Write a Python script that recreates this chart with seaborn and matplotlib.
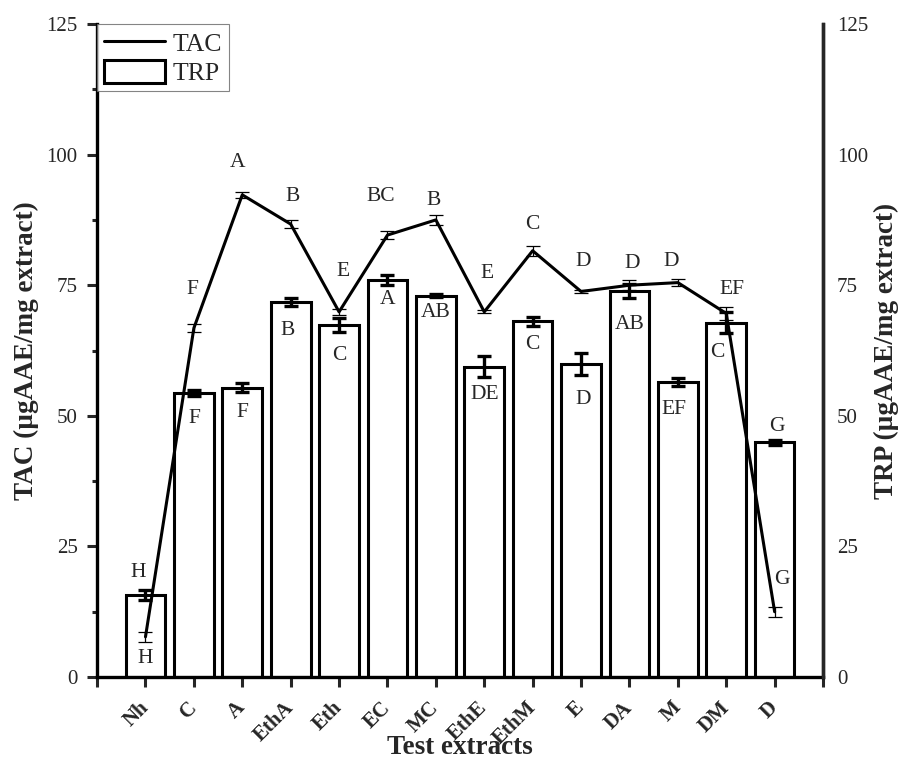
import numpy as np
import pandas as pd
import matplotlib
matplotlib.use("Agg")
import matplotlib.pyplot as plt
from matplotlib.lines import Line2D
from matplotlib.patches import Patch
from matplotlib.ticker import MultipleLocator
import seaborn as sns

extracts = ["Nh", "C", "A", "EthA", "Eth", "EC", "MC", "EthE", "EthM", "E", "DA", "M", "DM", "D"]
tac = [7.7, 66.8, 92.3, 86.7, 69.9, 84.6, 87.5, 69.9, 81.6, 73.8, 75.0, 75.5, 69.6, 12.5]
tac_err = [1.0, 0.8, 0.6, 0.8, 0.6, 0.8, 1.0, 0.3, 1.0, 0.3, 1.0, 0.6, 1.2, 1.0]
trp = [15.7, 54.4, 55.4, 71.8, 67.4, 76.0, 73.0, 59.4, 68.1, 60.0, 73.9, 56.5, 67.8, 44.9]
trp_err = [1.0, 0.6, 0.9, 0.8, 1.3, 1.0, 0.3, 2.0, 0.9, 2.1, 1.4, 0.8, 2.0, 0.4]
tac_letters = ["H", "F", "A", "B", "E", "BC", "B", "E", "C", "D", "D", "D", "EF", "G"]
trp_letters = ["H", "F", "F", "B", "C", "A", "AB", "DE", "C", "D", "AB", "EF", "C", "G"]

# label placement offsets (style)
tac_dy = [-4.1, 7.3, 6.1, 5.2, 7.8, 7.3, 3.8, 7.4, 5.1, 5.8, 4.2, 4.1, 4.5, 6.1]
tac_dx = [0, -0.04, -0.1, 0.04, 0.08, -0.14, -0.04, 0.06, 0, 0.04, 0.06, -0.14, 0.12, 0.14]
trp_dy = [4.4, -5.0, -4.7, -5.4, -5.8, -3.8, -3.3, -5.4, -4.5, -6.8, -6.5, -5.2, -5.6, 3.0]
trp_dx = [-0.16, 0, 0, -0.06, 0, 0, 0, 0, 0, 0.04, 0, -0.08, -0.18, 0.04]

sns.set_style("white")
plt.rcParams["font.family"] = ["Liberation Serif", "DejaVu Serif"]

df = pd.DataFrame({"extract": extracts, "TAC": tac, "TRP": trp})
pos = np.arange(len(extracts))

fig = plt.figure(figsize=(8.99, 7.62), dpi=100)
ax = fig.add_axes([0.108, 0.1115, 0.8075, 0.857])

sns.barplot(data=df, x="extract", y="TRP", ax=ax, color="white", edgecolor="black",
            linewidth=2.2, width=0.82, errorbar=None, saturation=1, zorder=2)
ax.errorbar(pos, trp, yerr=trp_err, fmt="none", ecolor="black", elinewidth=2.4,
            capsize=5, capthick=2.4, zorder=3)

sns.lineplot(x=pos, y=tac, ax=ax, color="black", linewidth=2.2, sort=False, zorder=4)
ax.errorbar(pos, tac, yerr=tac_err, fmt="none", ecolor="black", elinewidth=0.9,
            capsize=5, capthick=0.9, zorder=4)

for i in range(len(extracts)):
    ax.text(pos[i] + tac_dx[i], tac[i] + tac_dy[i], tac_letters[i], ha="center",
            va="center", fontsize=15.5, zorder=5)
    ax.text(pos[i] + trp_dx[i], trp[i] + trp_dy[i], trp_letters[i], ha="center",
            va="center", fontsize=15.5, zorder=5)

ax.set_xlim(-1, 14)
ax.set_ylim(0, 125)
ax.set_xticks(np.arange(-1, 15))
ax.set_xticklabels([""] + extracts + [""], rotation=45, ha="right", va="center",
                   rotation_mode="anchor", fontweight="bold", fontsize=15)
ax.yaxis.set_major_locator(MultipleLocator(25))
ax.yaxis.set_minor_locator(MultipleLocator(12.5))
ax.tick_params(axis="x", direction="out", length=7, width=2.2, pad=13, bottom=True)
ax.tick_params(axis="y", which="major", direction="out", length=7, width=2.2, pad=7,
               labelsize=15, left=True)
ax.tick_params(axis="y", which="minor", direction="out", length=3.5, width=2.2, left=True)

for s in ["left", "bottom", "right"]:
    ax.spines[s].set_linewidth(2.4)
    ax.spines[s].set_color("black")
ax.spines["top"].set_visible(False)

ax.set_xlabel("Test extracts", fontsize=19.5, fontweight="bold", labelpad=-10)
ax.set_ylabel("TAC (µgAAE/mg extract)", fontsize=19.5, fontweight="bold", labelpad=5)

ax2 = ax.twinx()
ax2.set_ylim(0, 125)
ax2.yaxis.set_major_locator(MultipleLocator(25))
ax2.tick_params(axis="y", length=0, pad=10, labelsize=15)
for s in ["left", "bottom", "top"]:
    ax2.spines[s].set_visible(False)
ax2.spines["right"].set_linewidth(2.4)
ax2.set_ylabel("TRP (µgAAE/mg extract)", fontsize=19.5, fontweight="bold", labelpad=4)

handles = [Line2D([0], [0], color="black", linewidth=2.2),
           Patch(facecolor="white", edgecolor="black", linewidth=2.2)]
leg = ax.legend(handles, ["TAC", "TRP"], loc="upper left", bbox_to_anchor=(0, 1),
                borderaxespad=0, fontsize=18.5, fancybox=False, frameon=True,
                handlelength=2.4, handleheight=1.0, handletextpad=0.3,
                borderpad=0.25, labelspacing=0.15)
leg.get_frame().set_edgecolor("#666666")
leg.get_frame().set_linewidth(0.8)
leg.set_zorder(10)

fig.savefig("out.png", dpi=100)
